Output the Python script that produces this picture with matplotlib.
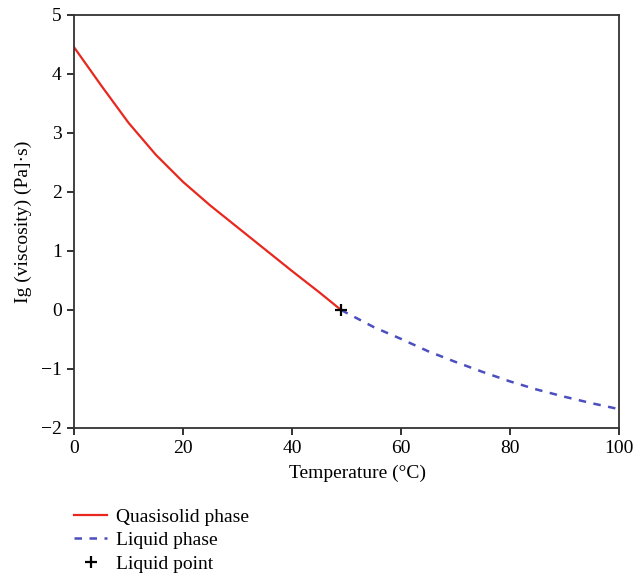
import numpy as np
import matplotlib.pyplot as plt

plt.rcParams['font.family'] = ['Liberation Serif', 'DejaVu Serif']

# Datos
temp_solido = [0, 5, 10, 15, 20, 25, 30, 35, 40, 45, 49]
visc_solido = [4.45, 3.8, 3.17, 2.63, 2.17, 1.77, 1.4, 1.03, 0.66, 0.3, 0.0]

temp_liquido = [49, 55, 60, 65, 70, 75, 80, 85, 90, 95, 100]
visc_liquido = [0.0, -0.29, -0.49, -0.7, -0.88, -1.05, -1.21, -1.35, -1.47, -1.58, -1.68]

punto_t = [49]
punto_v = [0.0]

fig = plt.figure(figsize=(6.34, 5.76), dpi=100)
ax = fig.add_axes([0.117, 0.257, 0.859, 0.717])

ax.plot(temp_solido, visc_solido, color='#e8281e', lw=1.6, label='Quasisolid phase')
ax.plot(temp_liquido, visc_liquido, color='#4b4fbf', lw=1.8, dashes=(3, 3), label='Liquid phase')
ax.plot(punto_t, punto_v, '+', color='black', ms=9, mew=1.6, label='Liquid point', zorder=5)

ax.set_xlim(0, 100)
ax.set_ylim(-2, 5)
ax.set_xticks([0, 20, 40, 60, 80, 100])
ax.set_yticks(range(-2, 6))
ax.set_yticklabels(['\u22122', '\u22121', '0', '1', '2', '3', '4', '5'])
ax.tick_params(direction='out', length=5, width=1.3, labelsize=14, color='#222222', pad=4)
ax.tick_params(top=False, right=False)
for s in ax.spines.values():
    s.set_linewidth(1.3)
    s.set_color('#333333')

ax.set_xlabel('Temperature (°C)', fontsize=14)
ax.xaxis.set_label_coords(0.52, -0.09)
ax.set_ylabel('Ig (viscosity) (Pa]·s)', fontsize=14, labelpad=6)

fig.legend(loc='upper left', bbox_to_anchor=(0.117, 0.118), frameon=False,
           fontsize=14, handlelength=1.7, handletextpad=0.45, labelspacing=0.3,
           borderaxespad=0, borderpad=0)

plt.savefig('out.png', dpi=100)
